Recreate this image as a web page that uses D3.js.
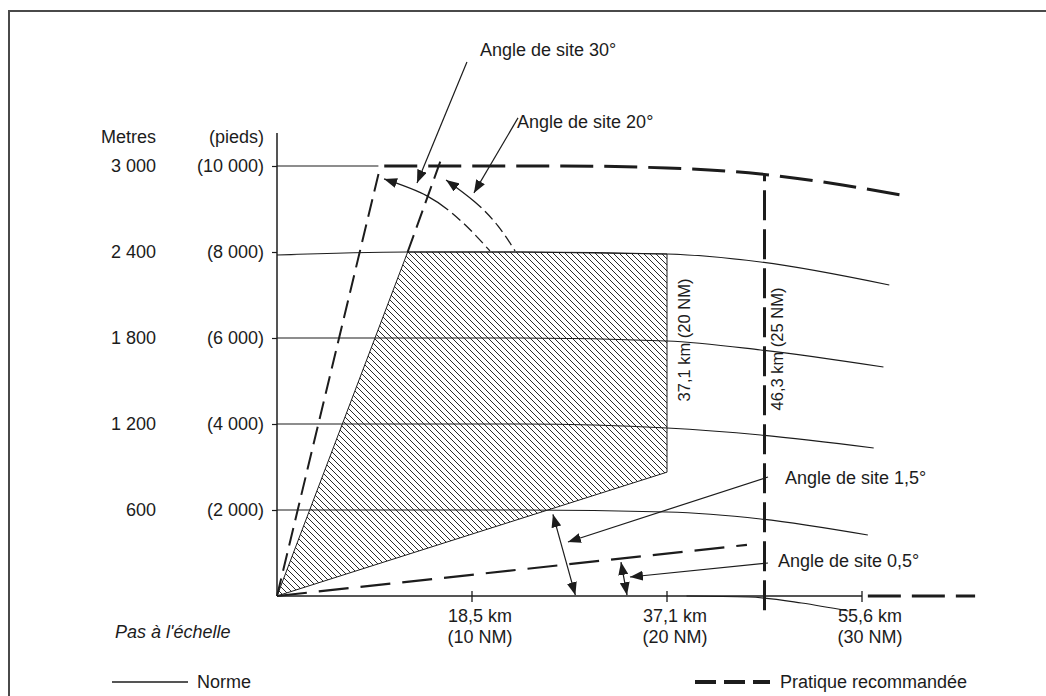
<!DOCTYPE html>
<html><head><meta charset="utf-8">
<script src="https://cdn.jsdelivr.net/npm/d3@7"></script>
<style>
body{margin:0;background:#fff;}
svg text{font-family:"Liberation Sans",Arial,Helvetica,sans-serif;fill:#1c1c1c;}
</style></head><body>
<svg id="chart" width="1046" height="696"></svg>
<script>
// ---------------- data (distance in NM, altitude in ft) ----------------
const altitudesFt = [2000, 4000, 6000, 8000, 10000];
const altitudeLabelsM = ["600", "1 200", "1 800", "2 400", "3 000"];
const altitudeLabelsFt = ["(2 000)", "(4 000)", "(6 000)", "(8 000)", "(10 000)"];
const rangeTicksNM = [10, 20, 30];
const rangeLabelsKm = ["18,5 km", "37,1 km", "55,6 km"];
const rangeLabelsNM = ["(10 NM)", "(20 NM)", "(30 NM)"];

// "Norme" altitude curves (earth curvature)
const curve2000 = [[0,2000],[12.5,2000],[20,1953],[24.8,1791],[30.3,1418]];
const curve4000 = [[0,4000],[12.5,4000],[20,3907],[24.8,3744],[30.6,3442]];
const curve6000 = [[0,6000],[12.5,6000],[20,5930],[24.8,5721],[31.1,5325]];
const curve8000 = [[0,7930],[6.7,8000],[12.5,8000],[20,7953],[24.8,7767],[31.4,7232]];
const curve10000Std = [[0,10000],[5.2,10000]];
const groundCurve = [[21,0],[24.2,-23],[26.9,-163],[29.3,-349]];

// "Pratique recommandée" boundaries
const curve10000Rec = [[5.5,10000],[14.5,10000],[20,9953],[24.8,9814],[29,9558],[32,9325]];
const elev30Rec = [[0,0],[5.23,9860]];
const elev20Rec = [[6.7,8000],[8.46,10210]];
const elevLowRec = [[0,0],[24.1,1190]];
const range25Rec = [[25,-330],[25,9814]];
const axisExtRec = [[30.3,0],[35.8,0]];

// hatched coverage volume (standard)
const coverageArea = [[0,0],[6.7,8000],[12.5,8000],[20,7953],[20,2880]];

// angle arcs
const arc30 = [[5.49,9699],[7.69,9304],[9.49,8699],[10.92,8025]];
const arc20 = [[8.67,9676],[10.15,9164],[11.33,8606],[12.21,8025]];

// annotation leaders and dimension arrows
const leader30 = [[9.74,12421],[7.18,9606]];
const leader20 = [[12.36,11118],[10.10,9374]];
const leader15 = [[25.18,2768],[14.92,1256]];
const leader05 = [[25.18,768],[18.10,442]];
const dim15 = [[14.15,1900],[15.3,20]];
const dim05 = [[17.64,790],[17.95,20]];

const angleLabels = [
  {text:"Angle de site 30°", at:[10.41,12561]},
  {text:"Angle de site 20°", at:[12.31,10886]},
  {text:"Angle de site 1,5°", at:[26.05,2605]},
  {text:"Angle de site 0,5°", at:[25.69,674]}
];
const verticalLabels = [
  {text:"37,1 km (20 NM)", nm:20, ft:5954, dx:23},
  {text:"46,3 km (25 NM)", nm:25, ft:5745, dx:18}
];

// ---------------- drawing ----------------
const svg = d3.select("#chart");
const x = d3.scaleLinear().domain([0,30]).range([277,862]);
const y = d3.scaleLinear().domain([0,10000]).range([596,166]);
const line = d3.line().x(d=>x(d[0])).y(d=>y(d[1]));
const smooth = d3.line().x(d=>x(d[0])).y(d=>y(d[1])).curve(d3.curveMonotoneX);
const natural = d3.line().x(d=>x(d[0])).y(d=>y(d[1])).curve(d3.curveNatural);
const ink = "#1c1c1c";

svg.append("rect").attr("width",1046).attr("height",696).attr("fill","#fff");

const defs = svg.append("defs");
const pat = defs.append("pattern").attr("id","hatch").attr("patternUnits","userSpaceOnUse")
  .attr("width",6).attr("height",6);
pat.append("path").attr("d","M-1,5 l2,2 M0,0 l6,6 M5,-1 l2,2")
  .attr("stroke","#2a2a2a").attr("stroke-width",1);
defs.append("marker").attr("id","arrow").attr("viewBox","0 0 13 10")
  .attr("markerUnits","userSpaceOnUse").attr("markerWidth",13).attr("markerHeight",10)
  .attr("refX",13).attr("refY",5).attr("orient","auto-start-reverse")
  .append("path").attr("d","M0,0 L13,5 L0,10 Z").attr("fill",ink);

// frame
svg.append("path").attr("d","M9,700 V11 H1050").attr("fill","none")
  .attr("stroke","#4a4a4a").attr("stroke-width",2);

// hatched area
svg.append("path").attr("d", line(coverageArea)+"Z")
  .attr("fill","url(#hatch)").attr("stroke",ink).attr("stroke-width",1);

// standard curves
[curve2000,curve4000,curve6000,curve8000,curve10000Std].forEach(c=>{
  svg.append("path").attr("d",smooth(c)).attr("fill","none").attr("stroke",ink).attr("stroke-width",1.2);
});
svg.append("path").attr("d",smooth(groundCurve)).attr("fill","none").attr("stroke",ink).attr("stroke-width",1.2);

// axes
svg.append("line").attr("x1",x(0)).attr("x2",x(0)).attr("y1",133).attr("y2",y(0))
  .attr("stroke",ink).attr("stroke-width",1.5);
svg.append("line").attr("x1",x(0)).attr("x2",x(30)).attr("y1",y(0)).attr("y2",y(0))
  .attr("stroke",ink).attr("stroke-width",1.5);

const yAxis = svg.append("g").attr("transform",`translate(${x(0)},0)`)
  .call(d3.axisLeft(y).tickValues(altitudesFt).tickSize(5).tickPadding(8)
        .tickFormat((d,i)=>altitudeLabelsFt[i]));
yAxis.select(".domain").remove();
yAxis.selectAll("line").attr("stroke",ink).attr("stroke-width",1.2);
yAxis.selectAll("text").attr("font-size",18).attr("font-family","Liberation Sans, Arial, sans-serif").attr("fill",ink);

svg.append("g").selectAll("text").data(altitudesFt).join("text")
  .attr("x",x(0)-121).attr("y",d=>y(d)).attr("dy","0.32em")
  .attr("text-anchor","end").attr("font-size",18).text((d,i)=>altitudeLabelsM[i]);
svg.append("text").attr("x",x(0)-121).attr("y",143).attr("text-anchor","end").attr("font-size",18).text("Metres");
svg.append("text").attr("x",x(0)-13).attr("y",143).attr("text-anchor","end").attr("font-size",18).text("(pieds)");

// x ticks
const xt = svg.append("g").selectAll("g").data(rangeTicksNM).join("g");
xt.append("line").attr("x1",d=>x(d)).attr("x2",d=>x(d)).attr("y1",y(0)-5).attr("y2",y(0)+6)
  .attr("stroke",ink).attr("stroke-width",1.3);
xt.append("text").attr("x",d=>x(d)+8).attr("y",622).attr("text-anchor","middle").attr("font-size",18)
  .text((d,i)=>rangeLabelsKm[i]);
xt.append("text").attr("x",d=>x(d)+8).attr("y",643).attr("text-anchor","middle").attr("font-size",18)
  .text((d,i)=>rangeLabelsNM[i]);

// recommended practice (dashed)
function dashed(data, w, dash, gen){
  svg.append("path").attr("d",(gen||line)(data)).attr("fill","none").attr("stroke",ink)
    .attr("stroke-width",w).attr("stroke-dasharray",dash);
}
dashed(curve10000Rec, 3, "33,11", smooth);
dashed(elev30Rec, 2, "18,8");
dashed(elev20Rec, 2, "18,8");
dashed(elevLowRec, 2.2, "30,12");
dashed(range25Rec, 3, "30,9");
dashed(axisExtRec, 3, "33,11");

// arcs (solid then dashed)
function arc(data, frac){
  const p = svg.append("path").attr("d",natural(data)).attr("fill","none").attr("stroke",ink)
    .attr("stroke-width",1.3).attr("marker-start","url(#arrow)");
  const L = p.node().getTotalLength();
  const solid = L*frac;
  let arr = [solid, 5];
  let acc = solid+5;
  while(acc < L){ arr.push(11,5); acc += 16; }
  p.attr("stroke-dasharray", arr.join(","));
}
arc(arc30, 0.55);
arc(arc20, 0.45);

// leaders
[leader30, leader20, leader15, leader05].forEach(l=>{
  svg.append("path").attr("d",line(l)).attr("fill","none").attr("stroke",ink)
    .attr("stroke-width",1.2).attr("marker-end","url(#arrow)");
});
[dim15, dim05].forEach(l=>{
  svg.append("path").attr("d",line(l)).attr("fill","none").attr("stroke",ink)
    .attr("stroke-width",1.2).attr("marker-start","url(#arrow)").attr("marker-end","url(#arrow)");
});

// labels
svg.append("g").selectAll("text").data(angleLabels).join("text")
  .attr("x",d=>x(d.at[0])).attr("y",d=>y(d.at[1])).attr("font-size",18).text(d=>d.text);

svg.append("g").selectAll("text").data(verticalLabels).join("text")
  .attr("transform",d=>`translate(${x(d.nm)+d.dx},${y(d.ft)}) rotate(-90)`)
  .attr("text-anchor","middle").attr("font-size",16.5).text(d=>d.text);

svg.append("text").attr("x",115).attr("y",638).attr("font-size",18).attr("font-style","italic")
  .text("Pas à l'échelle");

// legend
svg.append("line").attr("x1",112).attr("x2",188).attr("y1",682).attr("y2",682)
  .attr("stroke",ink).attr("stroke-width",1.3);
svg.append("text").attr("x",197).attr("y",688).attr("font-size",18).text("Norme");
svg.append("line").attr("x1",695).attr("x2",770).attr("y1",682).attr("y2",682)
  .attr("stroke",ink).attr("stroke-width",4).attr("stroke-dasharray","21,8");
svg.append("text").attr("x",780).attr("y",688).attr("font-size",18).text("Pratique recommandée");
</script>
</body></html>
